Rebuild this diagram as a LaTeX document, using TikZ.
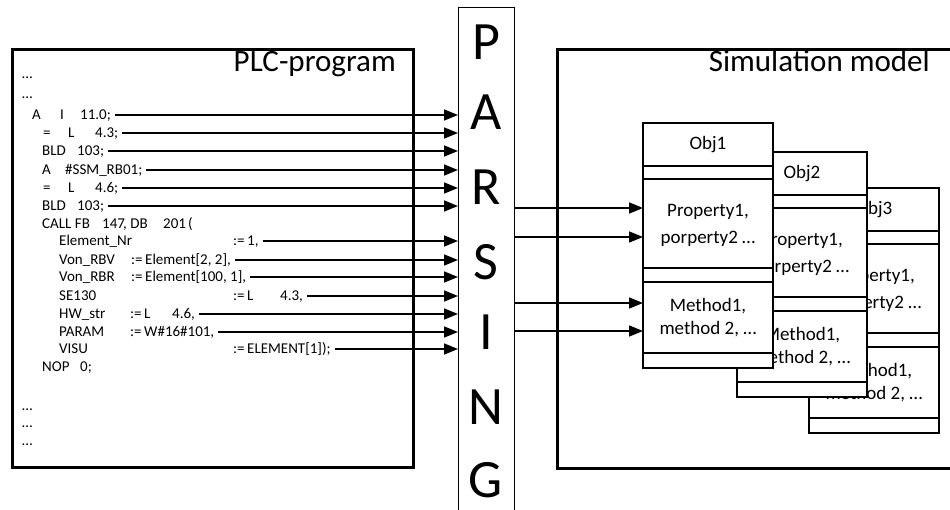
\documentclass[tikz,border=0pt]{standalone}
\usepackage{fontspec}
\setmainfont{Carlito}
\usetikzlibrary{arrows.meta,calc}
\begin{document}
\begin{tikzpicture}[x=1pt,y=-1pt,
  code/.style={font=\fontsize{15}{17}\selectfont, anchor=west, inner xsep=0pt, inner ysep=0pt, text height=9.6pt, text depth=0pt},
  arr/.style={line width=1.5pt, -{Triangle[length=14pt,width=11pt]}},
  bigbox/.style={draw, line width=3pt, anchor=north west, inner sep=0pt, outer sep=0pt},
  title/.style={font=\fontsize{31}{33}\selectfont, anchor=base east, inner sep=0pt},
  letter/.style={font=\fontsize{54}{56}\selectfont, inner sep=0pt, text height=35pt, text depth=0pt},
  objbox/.style={draw, fill=white, line width=1.4pt, anchor=north west, minimum width=130pt, minimum height=245pt, inner sep=0pt, outer sep=0pt},
  objline/.style={line width=1.4pt},
  objtxt/.style={font=\fontsize{19}{21}\selectfont, inner sep=0pt, text height=12.2pt, text depth=0pt}
]
\useasboundingbox (0,0) rectangle (950,510);
% PLC box
\node[bigbox, minimum width=401pt, minimum height=417pt] (plc) at (12,50) {};
\node[title] (plct) at (396,72) {PLC-program};
% Simulation model box
\draw[line width=3pt] (960,50) -- (557,50) -- (557,468) -- (960,468);
\node[title] (simt) at (930,72) {Simulation model};
% Parsing box
\node[draw, line width=1pt, anchor=north west, minimum width=56pt, minimum height=520pt, inner sep=0pt, outer sep=0pt] (parse) at (458,8) {};
\foreach \l/\yy in {P/42,A/112,R/187,S/262,I/332,N/407,G/480}{
  \node[letter] (L\l) at (486,\yy) {\l};
}
% code lines
\node[code] (d1) at (22,74) {…};
\node[code] (d2) at (22,94) {…};
\node[code] (a1) at (32,115) {A}; \node[code] (a2) at (60,115) {I}; \node[code] (c1) at (80,115) {11.0;};
\node[code] (b1) at (43,133) {=}; \node[code] (b2) at (68,133) {L}; \node[code] (c2) at (95,133) {4.3;};
\node[code] (e1) at (42,151) {BLD}; \node[code] (c3) at (77,151) {103;};
\node[code] (f1) at (42,170) {A}; \node[code] (c4) at (65,170) {\#SSM\_RB01;};
\node[code] (g1) at (43,188) {=}; \node[code] (g2) at (68,188) {L}; \node[code] (c5) at (95,188) {4.6;};
\node[code] (h1) at (42,206) {BLD}; \node[code] (c6) at (77,206) {103;};
\node[code] (k1) at (42,224) {CALL FB}; \node[code] (k2) at (102,224) {147}; \node[code] (k3) at (123,224) {, DB}; \node[code] (k4) at (163,224) {201}; \node[code] (k5) at (188,224) {(};
\node[code] (m1) at (59,241) {Element\_Nr}; \node[code] (c7) at (233,241) {:=\,1,};
\node[code] (n1) at (59,260) {Von\_RBV}; \node[code] (c8) at (131,260) {:=\,Element[2, 2],};
\node[code] (o1t) at (59,277) {Von\_RBR}; \node[code] (c9) at (131,277) {:=\,Element[100, 1],};
\node[code] (q1) at (59,296) {SE130}; \node[code] (q2) at (233,296) {:=\,L}; \node[code] (c10) at (280,296) {4.3,};
\node[code] (r1) at (59,314) {HW\_str}; \node[code] (r2) at (130,314) {:=\,L}; \node[code] (c11) at (172,314) {4.6,};
\node[code] (s1) at (59,332) {PARAM}; \node[code] (c12) at (130,332) {:=\,W\#16\#101,};
\node[code] (t1) at (59,349) {VISU}; \node[code] (c13) at (233,349) {:=\,ELEMENT[1]);};
\node[code] (u1) at (42,367) {NOP}; \node[code] (u2) at (80,367) {0;};
\node[code] (d3) at (22,406) {…};
\node[code] (d4) at (22,423) {…};
\node[code] (d5) at (22,441) {…};
% arrows into parsing
\foreach \c in {c1,c2,c3,c4,c5,c6,c7,c8,c9,c10,c11,c12,c13}{
  \draw[arr] ([xshift=4pt]\c.east) -- (\c.east -| parse.west);
}
% objects
\foreach \n/\x/\y in {3/809/188,2/737/152,1/643/123}{
  \begin{scope}[shift={(\x,\y)}]
    \node[objbox] (o\n) at (0,0) {};
    \draw[objline] (0,43) -- (130,43) (0,56) -- (130,56) (0,145) -- (130,145) (0,159) -- (130,159) (0,230) -- (130,230);
    \node[objtxt] (o\n h) at (65,20) {Obj\n};
    \node[objtxt] (o\n p1) at (65,87) {Property1,};
    \node[objtxt] (o\n p2) at (65,114) {porperty2 …};
    \node[objtxt] (o\n m1) at (65,182) {Method1,};
    \node[objtxt] (o\n m2) at (65,205) {method 2, …};
  \end{scope}
}
% arrows from parsing to Obj1
\foreach \yy in {208,237,303,331}{
  \coordinate (y\yy) at (0,\yy);
  \draw[arr] (y\yy -| parse.east) -- (y\yy -| o1.west);
}
\end{tikzpicture}
\end{document}
